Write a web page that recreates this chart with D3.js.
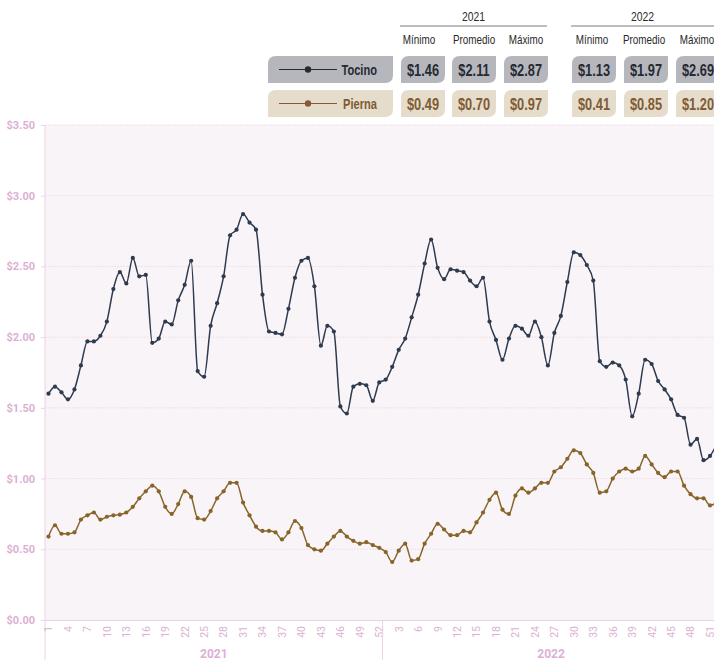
<!DOCTYPE html>
<html><head><meta charset="utf-8">
<script src="https://cdn.jsdelivr.net/npm/d3@7"></script>
<style>
html,body{margin:0;padding:0;background:#fff;}
svg{display:block;}
</style></head>
<body>
<script>
// ---- data ----
const years = ["2021", "2022"];
const weeks2021 = d3.range(1, 53);
const weeks2022 = d3.range(1, 53);
const tocino = [
1.60,1.65,1.61,1.56,1.63,1.80,1.97,1.97,2.01,2.11,
2.34,2.46,2.38,2.56,2.43,2.44,1.96,1.99,2.11,2.09,
2.26,2.37,2.54,1.76,1.72,2.08,2.24,2.43,2.72,2.76,
2.87,2.81,2.76,2.30,2.04,2.03,2.02,2.20,2.42,2.54,
2.56,2.36,1.94,2.08,2.04,1.51,1.46,1.65,1.67,1.66,
1.55,1.68,
1.70,1.79,1.91,1.99,2.14,2.30,2.52,2.69,2.49,2.41,
2.48,2.47,2.46,2.40,2.36,2.42,2.11,1.98,1.84,1.99,
2.08,2.06,2.01,2.11,2.00,1.80,2.03,2.15,2.39,2.60,
2.58,2.51,2.40,1.83,1.79,1.82,1.80,1.70,1.44,1.60,
1.84,1.81,1.69,1.63,1.56,1.45,1.43,1.24,1.28,1.13,
1.16,1.24];
const pierna = [
0.59,0.67,0.61,0.61,0.62,0.71,0.74,0.76,0.71,0.73,
0.74,0.745,0.76,0.80,0.86,0.91,0.95,0.91,0.80,0.75,
0.82,0.91,0.87,0.72,0.71,0.77,0.86,0.91,0.97,0.97,
0.83,0.74,0.66,0.63,0.63,0.62,0.57,0.62,0.70,0.65,
0.53,0.50,0.49,0.54,0.59,0.63,0.59,0.56,0.54,0.55,
0.53,0.51,
0.48,0.41,0.49,0.54,0.42,0.43,0.54,0.61,0.68,0.64,
0.60,0.60,0.63,0.62,0.69,0.76,0.85,0.90,0.78,0.75,
0.88,0.93,0.90,0.93,0.97,0.97,1.05,1.08,1.14,1.20,
1.18,1.10,1.04,0.90,0.91,1.00,1.05,1.07,1.05,1.07,
1.16,1.10,1.04,1.01,1.05,1.05,0.95,0.89,0.86,0.86,
0.81,0.83];
const seriesNames = ["Tocino", "Pierna"];
const statLabels = ["Mínimo", "Promedio", "Máximo"];
const stats2021Tocino = ["$1.46", "$2.11", "$2.87"];
const stats2022Tocino = ["$1.13", "$1.97", "$2.69"];
const stats2021Pierna = ["$0.49", "$0.70", "$0.97"];
const stats2022Pierna = ["$0.41", "$0.85", "$1.20"];
const yTicks = [0, 0.5, 1, 1.5, 2, 2.5, 3, 3.5];

// ---- setup ----
const W = 714, H = 660;
const condensed = "'Liberation Sans', Arial, sans-serif";
const svg = d3.select("body").append("svg").attr("width", W).attr("height", H);

const keys = [...weeks2021.map(w => "2021-" + w), ...weeks2022.map(w => "2022-" + w)];
const weekOf = k => +k.split("-")[1];
const x = d3.scalePoint().domain(keys).range([48.5, 716.5]);
const y = d3.scaleLinear().domain([0, 3.5]).range([620, 125]);
const plotTop = y(3.5), plotBottom = y(0), plotLeft = 45;

const pink = "#dcb0d3";

// plot background
svg.append("rect").attr("x", plotLeft).attr("y", plotTop).attr("width", W - plotLeft).attr("height", plotBottom - plotTop).attr("fill", "#f9f4f8");

// gridlines
svg.append("g").selectAll("line").data(yTicks.filter(d => d > 0)).join("line")
  .attr("x1", plotLeft).attr("x2", W).attr("y1", d => y(d)).attr("y2", d => y(d))
  .attr("stroke", "#f1dfea").attr("stroke-width", 1).attr("stroke-dasharray", "2,1");

// y axis
const yAxis = d3.axisLeft(y).tickValues(yTicks).tickFormat(d => "$" + d3.format(".2f")(d)).tickSize(4).tickPadding(6);
const gy = svg.append("g").attr("transform", `translate(${plotLeft},0)`).call(yAxis);
gy.select(".domain").remove();
gy.selectAll(".tick line").attr("stroke", "#ecd3e4");
gy.selectAll(".tick text").attr("fill", pink).attr("font-family", "Roboto, 'Liberation Sans', sans-serif")
  .attr("font-size", 11).attr("font-weight", "bold");
svg.append("line").attr("x1", plotLeft).attr("x2", plotLeft).attr("y1", plotTop).attr("y2", H).attr("stroke", "#ecd3e4").attr("stroke-width", 1);

// x axis
const tickKeys = keys.filter((k, i) => i % 3 === 0);
const xAxis = d3.axisBottom(x).tickValues(tickKeys).tickFormat(k => weekOf(k)).tickSize(0).tickPadding(0);
const gx = svg.append("g").attr("transform", `translate(0,${plotBottom})`).call(xAxis);
gx.select(".domain").attr("stroke", "#ecd3e4").attr("d", `M${plotLeft},0.5H${W}`);
gx.selectAll(".tick text")
  .attr("transform", "rotate(-90)")
  .attr("text-anchor", "end").attr("dy", "0.32em").attr("x", -6).attr("y", 0)
  .attr("fill", pink).attr("font-family", "Roboto, 'Liberation Sans', sans-serif").attr("font-size", 10.5);

// year separator & labels
const sepX = (x("2021-52") + x("2022-1")) / 2;
svg.append("line").attr("x1", sepX).attr("x2", sepX).attr("y1", plotBottom).attr("y2", H).attr("stroke", "#ecd3e4");
const yearExtents = [[x("2021-1"), x("2021-52")], [x("2022-1"), x("2022-52")]];
svg.append("g").selectAll("text").data(years).join("text")
  .attr("x", (d, i) => (yearExtents[i][0] + yearExtents[i][1]) / 2).attr("y", 658)
  .attr("text-anchor", "middle").attr("fill", pink).attr("font-weight", "bold")
  .attr("font-family", "Roboto, 'Liberation Sans', sans-serif").attr("font-size", 12).text(d => d);

// lines
const colors = {Tocino: "#2e3a4e", Pierna: "#876528"};
const datasets = [tocino, pierna];
svg.append("clipPath").attr("id", "clip").append("rect").attr("x", plotLeft).attr("y", 0).attr("width", W - plotLeft).attr("height", H);
const lineGen = d3.line().x((d, i) => x(keys[i])).y(d => y(d)).curve(d3.curveMonotoneX);
const plot = svg.append("g").attr("clip-path", "url(#clip)");
datasets.forEach((vals, si) => {
  const c = colors[seriesNames[si]];
  plot.append("path").datum(vals).attr("d", lineGen).attr("fill", "none").attr("stroke", c).attr("stroke-width", 1.5);
  plot.append("g").selectAll("circle").data(vals).join("circle")
    .attr("cx", (d, i) => x(keys[i])).attr("cy", d => y(d)).attr("r", 2.1).attr("fill", c);
});

// ---- table / legend ----
function tab(xl, yt, w, h, r) {
  // rounded top-left and bottom-right corners
  return `M${xl},${yt + r} Q${xl},${yt} ${xl + r},${yt} H${xl + w} V${yt + h - r} Q${xl + w},${yt + h} ${xl + w - r},${yt + h} H${xl} Z`;
}
// condensed text via horizontal scale
function ctext(g, tx, ty, str, opts) {
  return g.append("text")
    .attr("transform", `translate(${tx},${ty}) scale(${opts.sx},1)`)
    .attr("text-anchor", opts.anchor || "middle")
    .attr("font-family", condensed)
    .attr("font-size", opts.size).attr("font-weight", opts.weight || "normal")
    .attr("fill", opts.fill).text(str);
}
const hdr = svg.append("g");
const groupX = [[400, 547], [571, 718]];
years.forEach((yr, gi) => {
  const [a, b] = groupX[gi];
  ctext(hdr, (a + b) / 2 - (gi === 1 ? 2 : 0), 21, yr, {sx: 0.8, size: 13, fill: "#2a2a2a"});
  hdr.append("line").attr("x1", a).attr("x2", b).attr("y1", 26).attr("y2", 26).attr("stroke", "#bdbdbd").attr("stroke-width", 2);
});
const colCenters = [[419, 474, 526], [592, 644, 697]];
colCenters.forEach(cs => cs.forEach((cx, j) => {
  ctext(hdr, cx, 44, statLabels[j], {sx: 0.76, size: 13, fill: "#2a2a2a"});
}));

const rows = [
  {name: "Tocino", fill: "#b6b7bd", text: "#262a33", line: "#2a2a2a", vals: [stats2021Tocino, stats2022Tocino], y0: 56},
  {name: "Pierna", fill: "#e5dccb", text: "#7f5b33", line: "#87593a", vals: [stats2021Pierna, stats2022Pierna], y0: 90}
];
const boxX = [[401, 452, 504], [572, 624, 676]];
const boxW = 44, boxH = 27;
rows.forEach(r => {
  const g = svg.append("g");
  g.append("path").attr("d", tab(268, r.y0, 125, boxH, 8)).attr("fill", r.fill);
  g.append("line").attr("x1", 279).attr("x2", 337).attr("y1", r.y0 + boxH / 2).attr("y2", r.y0 + boxH / 2).attr("stroke", r.line).attr("stroke-width", 1.2);
  g.append("circle").attr("cx", 308).attr("cy", r.y0 + boxH / 2).attr("r", 3.2).attr("fill", r.line);
  ctext(g, 377, r.y0 + boxH / 2 + 5.5, r.name, {sx: 0.74, size: 15, weight: "bold", fill: r.text, anchor: "end"});
  r.vals.forEach((vs, gi) => vs.forEach((v, j) => {
    const bx = boxX[gi][j];
    g.append("path").attr("d", tab(bx, r.y0, boxW, boxH, 8)).attr("fill", r.fill);
    ctext(g, bx + boxW / 2, r.y0 + boxH / 2 + 6, v, {sx: 0.8, size: 16, weight: "bold", fill: r.text});
  }));
});
</script>
</body></html>
